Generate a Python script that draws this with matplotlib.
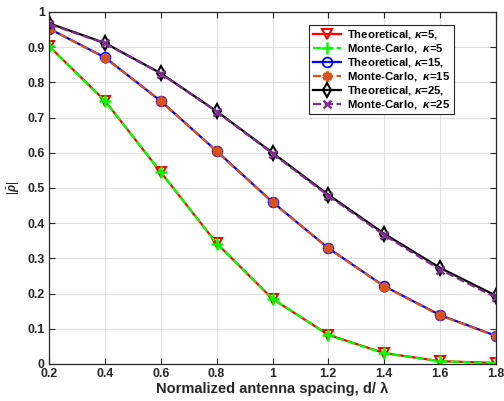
import matplotlib
matplotlib.use("Agg")
import matplotlib.pyplot as plt
import numpy as np

plt.rcParams["font.family"] = ["Liberation Sans", "DejaVu Sans"]
plt.rcParams["mathtext.fontset"] = "custom"
plt.rcParams["mathtext.it"] = "Liberation Sans:italic:bold"
plt.rcParams["mathtext.rm"] = "Liberation Sans"

spacing = [0.2, 0.4, 0.6, 0.8, 1.0, 1.2, 1.4, 1.6, 1.8]

theo_k5 = [0.903, 0.748, 0.545, 0.343, 0.185, 0.083, 0.031, 0.008, 0.003]
mc_k5 = [0.902, 0.747, 0.546, 0.342, 0.186, 0.082, 0.030, 0.008, 0.002]
theo_k15 = [0.953, 0.871, 0.747, 0.605, 0.460, 0.329, 0.221, 0.139, 0.080]
mc_k15 = [0.953, 0.870, 0.748, 0.604, 0.459, 0.329, 0.220, 0.138, 0.079]
theo_k25 = [0.968, 0.912, 0.826, 0.718, 0.600, 0.481, 0.370, 0.273, 0.194]
mc_k25 = [0.966, 0.911, 0.825, 0.717, 0.598, 0.478, 0.366, 0.268, 0.189]

labels = [
    "Theoretical, $\\kappa$=5,",
    "Monte-Carlo,  $\\kappa$=5",
    "Theoretical, $\\kappa$=15,",
    "Monte-Carlo,  $\\kappa$=15",
    "Theoretical, $\\kappa$=25,",
    "Monte-Carlo,  $\\kappa$=25",
]

ORANGE = (0.85, 0.325, 0.098)
PURPLE = (0.494, 0.184, 0.556)
TXT = "0.15"
LW = 1.6

fig = plt.figure(figsize=(5.04, 4.01), dpi=100, facecolor="white")
ax = fig.add_axes([49 / 504, 1 - 364 / 401, 447 / 504, 352 / 401])

ax.plot(spacing, theo_k5, color="red", lw=LW, marker="v", ms=7,
        mfc="none", mec="red", mew=1.5, label=labels[0])
ax.plot(spacing, mc_k5, color="#00ff00", lw=LW, ls="--", marker="+", ms=8,
        mew=1.8, label=labels[1])
ax.plot(spacing, theo_k15, color="blue", lw=LW, marker="o", ms=7,
        mfc="none", mec="blue", mew=1.3, label=labels[2])
ax.plot(spacing, mc_k15, color=ORANGE, lw=LW, ls="--", marker=(6, 2, 0), ms=7,
        mew=2.5, label=labels[3])
ax.plot(spacing, theo_k25, color="black", lw=LW, marker="d", ms=7,
        mfc="none", mec="black", mew=1.5, label=labels[4])
ax.plot(spacing, mc_k25, color=PURPLE, lw=LW, ls="--", marker="x", ms=6,
        mew=1.8, label=labels[5])

ax.set_xlim(0.2, 1.8)
ax.set_ylim(0, 1)
ax.set_xticks(spacing)
ax.set_xticklabels([f"{v:g}" for v in spacing])
yt = np.round(np.arange(0, 1.01, 0.1), 1)
ax.set_yticks(yt)
ax.set_yticklabels([f"{v:g}" for v in yt])

ax.grid(True, color="0.88", lw=0.8)
ax.set_axisbelow(True)
ax.tick_params(direction="in", length=4, top=True, right=True,
               labelsize=8.9, colors=TXT, width=0.8, pad=3)
for lab in ax.get_xticklabels() + ax.get_yticklabels():
    lab.set_fontweight("bold")
for sp in ax.spines.values():
    sp.set_color(TXT)
    sp.set_linewidth(0.9)

ax.set_xlabel("Normalized antenna spacing, d/ \u03bb", fontsize=10.5,
              fontweight="bold", color=TXT, labelpad=1)
ax.set_ylabel("$|\\bar{\\rho}|$", fontsize=8.5, color=TXT, labelpad=4)

leg = ax.legend(loc="upper right", bbox_to_anchor=(0.905, 0.963),
                borderaxespad=0, prop={"weight": "bold", "size": 8.2},
                frameon=True, fancybox=False, edgecolor=TXT, framealpha=1,
                handlelength=2.5, borderpad=0.3, labelspacing=0.08,
                handletextpad=0.5)
leg.get_frame().set_linewidth(0.8)

fig.savefig("out.png", dpi=100, facecolor="white")
